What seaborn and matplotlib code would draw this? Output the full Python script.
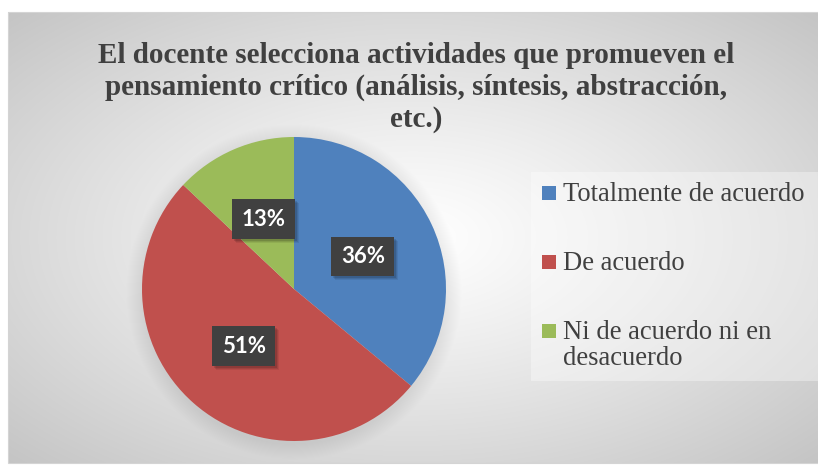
import numpy as np
import seaborn as sns
import matplotlib.pyplot as plt
from matplotlib.patches import Rectangle
from matplotlib.transforms import IdentityTransform

# ---- data ----
categories = ["Totalmente de acuerdo", "De acuerdo", "Ni de acuerdo ni en\ndesacuerdo"]
percentages = [36, 51, 13]
colors = ["#4F81BD", "#C0504D", "#9BBB59"]
title = ("El docente selecciona actividades que promueven el\n"
         "pensamiento crítico (análisis, síntesis, abstracción,\n"
         "etc.)")

sns.set_style("white")
palette = sns.color_palette(colors)

W, H = 818, 465
fig = plt.figure(figsize=(W / 100, H / 100), dpi=100)
fig.patch.set_facecolor("white")

def px(x, y):
    # pixel coords from top-left -> figure fraction
    return x / W, 1 - y / H

# pie geometry (pixels)
cx, cy, r = 294, 289, 152

# ---- chart area: radial grey gradient + soft pie shadow ----
bx0, by0, bw, bh = 8, 12, 810, 451
bg = fig.add_axes([bx0 / W, 1 - (by0 + bh) / H, bw / W, bh / H])
yy, xx = np.mgrid[0:bh, 0:bw] + 0.5
nx = (xx - bw / 2) / (bw / 2)
ny = (yy - bh / 2) / (bh / 2)
d = np.sqrt(nx ** 2 + ny ** 2) / np.sqrt(2)
shade = 1 - 0.23 * d ** 1.15
dist = np.hypot(xx + bx0 - cx, yy + by0 - (cy + 3))
shade -= 0.07 * np.clip(1 - (dist - r) / 16, 0, 1)
img = np.dstack([shade, shade, shade])
bg.imshow(img, extent=[0, 1, 0, 1], aspect="auto", interpolation="bilinear")
bg.set_xlim(0, 1)
bg.set_ylim(0, 1)
bg.axis("off")
fig.patches.append(Rectangle((bx0 / W, 1 - (by0 + bh) / H), bw / W, bh / H,
                             transform=fig.transFigure, fill=False, ec="#d4d4d4", lw=0.8))

# ---- title ----
tx, ty = px(416, 127)
fig.text(tx, ty, title, ha="center", va="baseline", fontsize=21.0, fontweight="bold",
         family="Liberation Serif", color="#404040", linespacing=1.23)

# ---- pie ----
x0, y0 = px(cx - r, cy + r)
ax = fig.add_axes([x0, y0, 2 * r / W, 2 * r / H])
wedges, texts, autotexts = ax.pie(
    percentages, colors=palette, startangle=90, counterclock=False,
    autopct=lambda p: f"{p:.0f}%", pctdistance=0.5,
    wedgeprops=dict(linewidth=0),
    textprops=dict(color="white", fontsize=16, fontweight="bold", family="Lato"))
ax.set_xlim(-1, 1)
ax.set_ylim(-1, 1)
ax.set_aspect("equal")
ax.axis("off")

for t in autotexts:
    t.set_bbox(dict(boxstyle="square,pad=0.42", fc="#404040", ec="none"))
    t.set_zorder(5)

# soft drop shadow behind each label box
fig.canvas.draw()
for t in autotexts:
    ext = t.get_bbox_patch().get_window_extent()
    for off, a in [(4, 0.07), (3, 0.09), (2, 0.12)]:
        ax.add_artist(Rectangle((ext.x0 + off, ext.y0 - off), ext.width, ext.height,
                                transform=IdentityTransform(), fc="black", ec="none",
                                alpha=a, zorder=4, clip_on=False))

# ---- legend ----
lx, ly = px(531, 381)
fig.patches.append(Rectangle((lx, ly), (818 - 531) / W, (381 - 172) / H,
                             transform=fig.transFigure, fc="white", ec="none", alpha=0.35))
ys = [193, 262, 331]
for cat, col, yc in zip(categories, palette, ys):
    sx, sy = px(542, yc + 7)
    fig.patches.append(Rectangle((sx, sy), 14 / W, 14 / H, transform=fig.transFigure,
                                 fc=col, ec="none"))
    nlines = cat.count("\n")
    tx, ty = px(563, yc + 8 + 26 * nlines)
    fig.text(tx, ty, cat, ha="left", va="baseline", fontsize=19.2,
             family="Liberation Serif", color="#404040", linespacing=1.05)

fig.savefig("out.png", dpi=100, facecolor="white")
